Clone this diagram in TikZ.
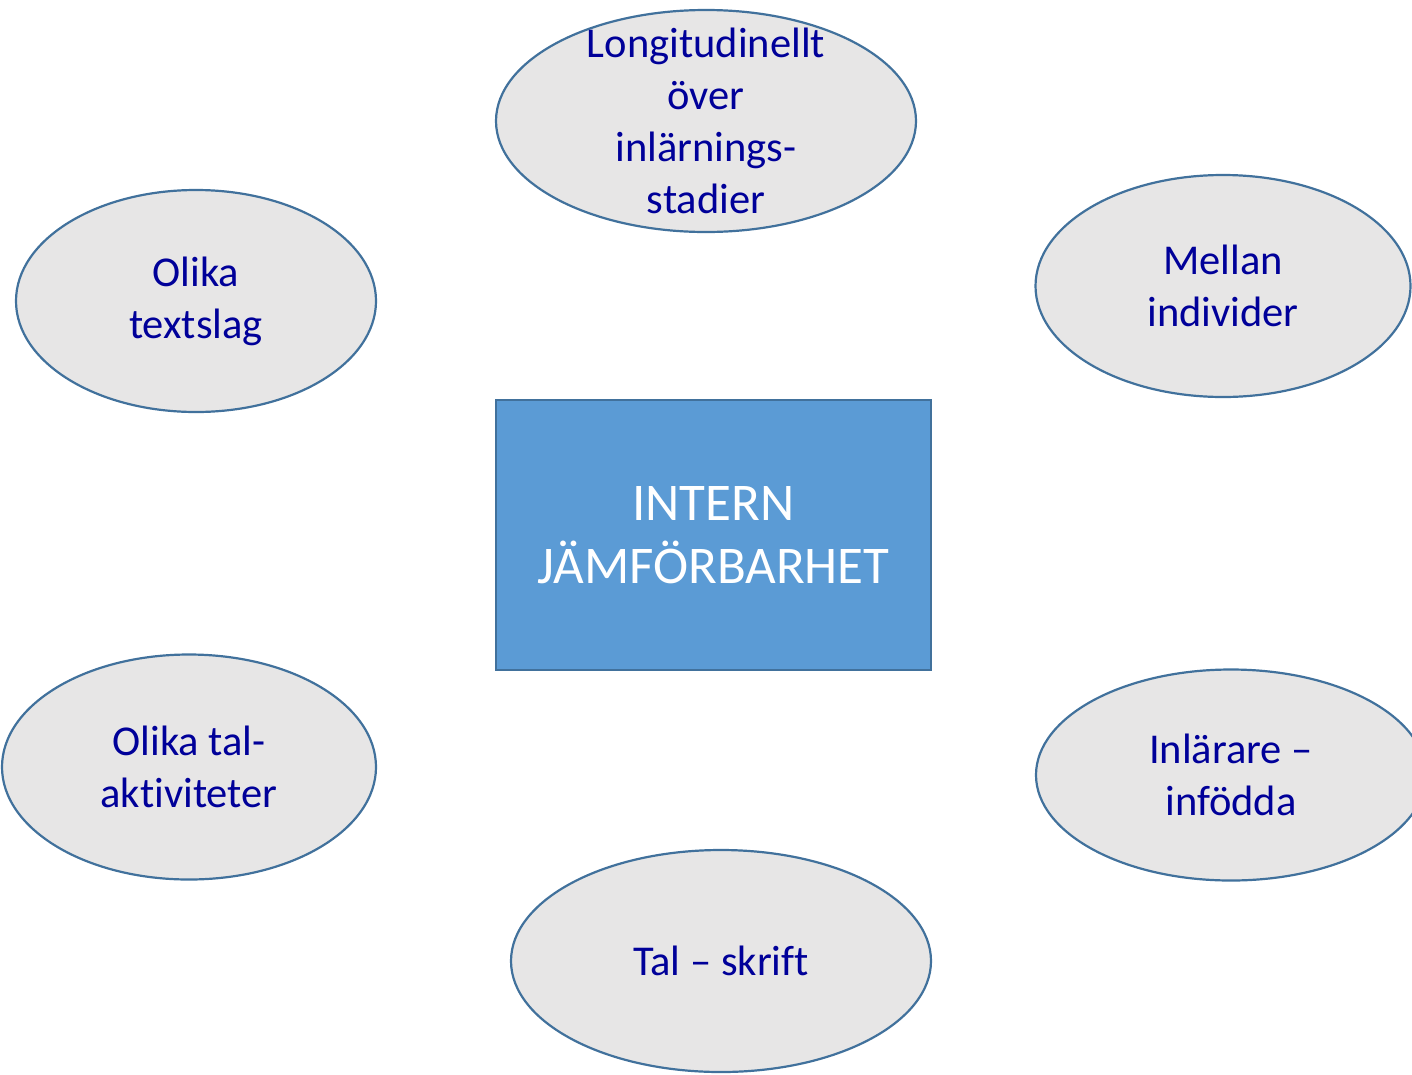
\documentclass[tikz,border=0pt]{standalone}
\usepackage{fontspec}
\setmainfont[Ligatures=NoCommon]{Carlito}
\usepackage{xcolor}
\usetikzlibrary{shapes.geometric,positioning}

\definecolor{boxblue}{HTML}{5B9BD5}
\definecolor{edgeblue}{HTML}{41719C}
\definecolor{ovalgray}{HTML}{E7E6E6}
\definecolor{textblue}{HTML}{000099}

\begin{document}
\begin{tikzpicture}[x=1pt, y=-1pt]
        \useasboundingbox (0,0) rectangle (1412,1074);
        \tikzset{oval/.style={draw=edgeblue, line width=2.2pt, fill=ovalgray, ellipse, inner xsep=0pt, inner ysep=-70pt, align=center, text=textblue, font=\fontsize{42.5}{52}\selectfont}}

        % Centre
        \node[draw=edgeblue, line width=2.2pt, fill=boxblue, minimum width=435pt, minimum height=270pt, inner sep=0pt, align=center, text=white, font=\fontsize{53}{63}\selectfont] (intern) at (713.5,535) {INTERN\\JÄMFÖRBARHET};

        % Ovals
        \node[oval, minimum width=420pt, minimum height=222pt] (longit) at (706,121) {Longitudinellt\\över\\inlärnings-\\stadier};
        \node[oval, minimum width=360pt, minimum height=222pt] (textslag) at (196,301) {Olika\\textslag};
        \node[oval, minimum width=375pt, minimum height=222pt] (mellan) at (1223,286) {Mellan\\individer};
        \node[oval, minimum width=374pt, minimum height=225pt] (talakt) at (189,767) {Olika tal-\\aktiviteter};
        \node[oval, minimum width=390pt, minimum height=211pt] (inlarare) at (1231,775) {Inlärare –\\infödda};
        \node[oval, minimum width=420pt, minimum height=222pt] (talskrift) at (721,961) {Tal – skrift};
    \end{tikzpicture}
\end{document}
